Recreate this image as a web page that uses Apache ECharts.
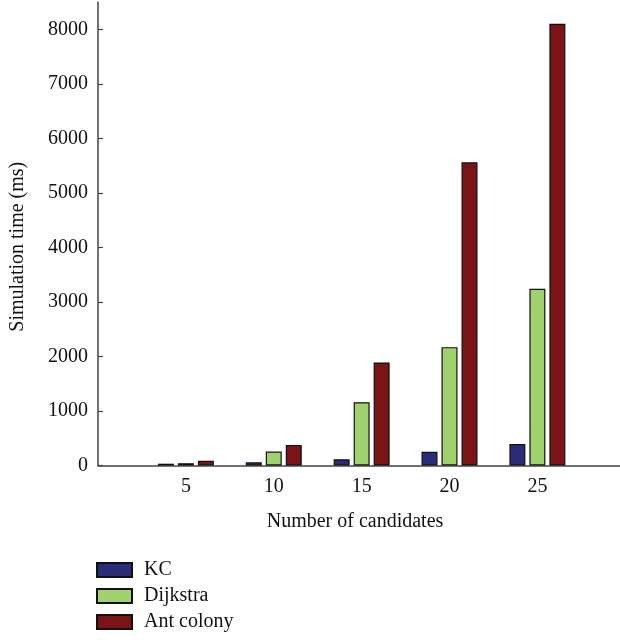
<!DOCTYPE html>
<html>
<head>
<meta charset="utf-8">
<script src="https://cdn.jsdelivr.net/npm/echarts@6/dist/echarts.min.js"></script>
<style>
  html, body { margin: 0; padding: 0; background: #fff; }
  #chart { width: 620px; height: 640px; }
</style>
</head>
<body>
<div id="chart"></div>
<script>
// Simulation time (ms) per number of candidates
const candidates = [5, 10, 15, 20, 25];
const kc = [33, 58, 115, 250, 395];
const dijkstra = [42, 255, 1160, 2170, 3240];
const antColony = [85, 378, 1890, 5560, 8100];
const yTicks = [0, 1000, 2000, 3000, 4000, 5000, 6000, 7000, 8000];

const FONT = '"Liberation Serif", "DejaVu Serif", serif';
const AXIS_COLOR = '#444';

function pairs(values) {
  return candidates.map((c, i) => [c, values[i]]);
}

function barSeries(name, values, color) {
  return {
    name: name,
    type: 'bar',
    data: pairs(values),
    barWidth: 16,
    barGap: '25%',
    itemStyle: { color: color, borderColor: '#111', borderWidth: 1.2 }
  };
}

const chart = echarts.init(document.getElementById('chart'), null, { renderer: 'canvas' });
chart.setOption({
  animation: false,
  backgroundColor: '#fff',
  textStyle: { fontFamily: FONT, color: '#111' },
  grid: { left: 96, right: 0, top: 2, bottom: 174.5, containLabel: false },
  xAxis: {
    type: 'value',
    min: 0,
    max: 29.7,
    interval: 5,
    name: 'Number of candidates',
    nameLocation: 'middle',
    nameGap: 46,
    nameTextStyle: { fontFamily: FONT, fontSize: 20, color: '#111', padding: [0, 8, 0, 0] },
    axisLine: { show: true, onZero: false, lineStyle: { color: AXIS_COLOR, width: 1.5 } },
    axisTick: { show: false },
    splitLine: { show: false },
    axisLabel: {
      customValues: candidates,
      fontFamily: FONT,
      fontSize: 20,
      color: '#111',
      margin: 11
    }
  },
  yAxis: {
    type: 'value',
    min: 0,
    max: 8500,
    interval: 1000,
    name: 'Simulation time (ms)',
    nameLocation: 'middle',
    nameGap: 70,
    nameRotate: 90,
    nameTextStyle: { fontFamily: FONT, fontSize: 20, color: '#111', padding: [0, 26, 0, 0] },
    axisLine: { show: true, lineStyle: { color: AXIS_COLOR, width: 1.5 } },
    axisTick: {
      show: true,
      inside: true,
      length: 5,
      customValues: yTicks,
      lineStyle: { color: AXIS_COLOR, width: 1.2 }
    },
    splitLine: { show: false },
    axisLabel: {
      customValues: yTicks,
      formatter: (v) => String(v),
      fontFamily: FONT,
      fontSize: 20,
      color: '#111',
      margin: 10
    }
  },
  legend: {
    orient: 'vertical',
    left: 96,
    top: 560,
    height: 120,
    icon: 'rect',
    itemWidth: 35,
    itemHeight: 14,
    itemGap: 6,
    padding: 0,
    textStyle: { fontFamily: FONT, fontSize: 20, color: '#111', padding: [0, 0, 0, 7] },
    data: ['KC', 'Dijkstra', 'Ant colony']
  },
  series: [
    barSeries('KC', kc, '#2a2c78'),
    barSeries('Dijkstra', dijkstra, '#a2d16f'),
    barSeries('Ant colony', antColony, '#7a1416')
  ]
});
</script>
</body>
</html>
